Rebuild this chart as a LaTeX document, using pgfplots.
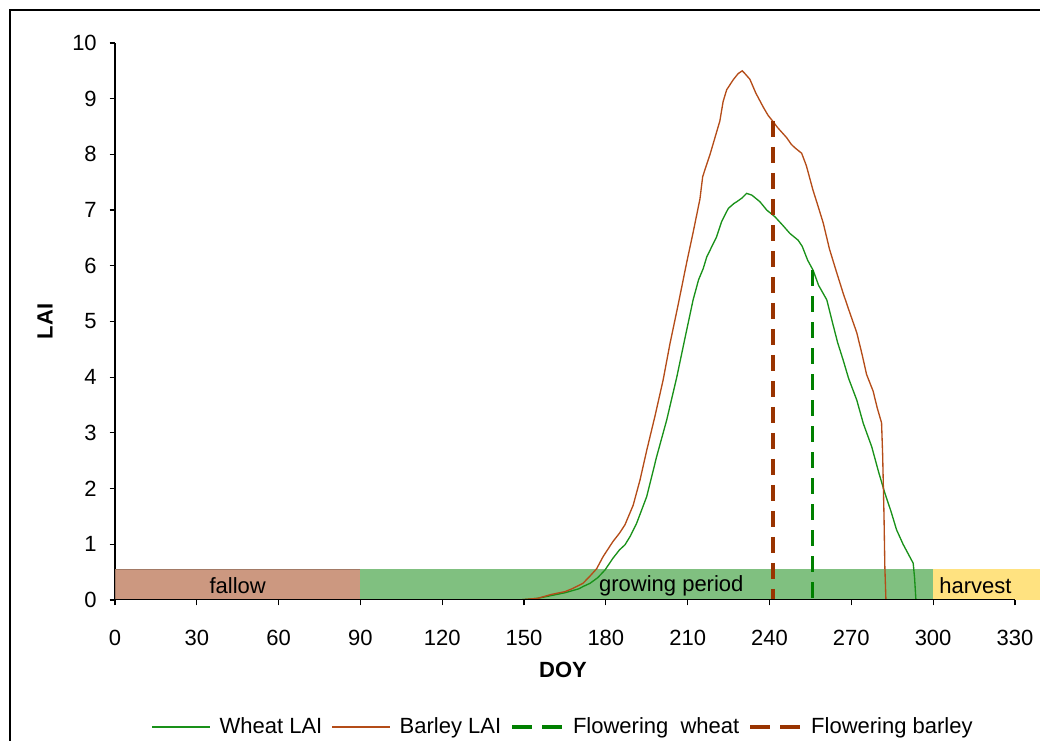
\documentclass[border=0pt]{standalone}
\usepackage{fontspec}
\setmainfont{Liberation Sans}
\usepackage{pgfplots}
\pgfplotsset{compat=1.18}
\definecolor{wheatc}{RGB}{25,145,25}
\definecolor{barleyc}{RGB}{180,76,24}
\definecolor{flwheat}{RGB}{0,128,0}
\definecolor{flbarley}{RGB}{153,51,0}
\definecolor{fallowc}{RGB}{204,152,128}
\definecolor{growc}{RGB}{128,192,128}
\definecolor{harvc}{RGB}{255,226,128}
\newcommand{\fs}{\fontsize{16.5}{19.5}\selectfont}
\pgfplotsset{dashleg/.style={legend image code/.code={\draw[##1, dash pattern=on 15pt off 7.5pt] (0pt,0pt) -- (37.5pt,0pt);}}}
\begin{document}
\fs
\begin{tikzpicture}
\begin{axis}[
  at={(86.25pt,105pt)}, anchor=south west,
  scale only axis, width=693.75pt, height=417.75pt,
  xmin=0, xmax=339.2, ymin=0, ymax=10,
  axis lines=left, axis line style={-, line width=0.9pt},
  x axis line style={draw=none},
  xtick={0,30,...,330}, ytick={0,1,...,10},
  tick align=outside, major tick length=4pt,
  tick style={black, line width=0.9pt},
  /pgf/number format/assume math mode=true,
  ticklabel style={font=\fs},
  xticklabel style={yshift=-13pt},
  yticklabel style={xshift=-4pt},
  xlabel={\textbf{DOY}}, ylabel={\textbf{LAI}},
  label style={font=\fs},
  xlabel style={at={(axis description cs:0.4843,-0.1257)}, anchor=center},
  ylabel style={at={(axis description cs:-0.0757,0.5)}, anchor=center},
  legend columns=4,
  legend style={draw=none, fill=none, at={(axis description cs:0.4848,-0.228)}, anchor=center,
    font=\fs,
    /tikz/every even column/.append style={column sep=5pt},
    /tikz/every odd column/.append style={column sep=5pt}},
  legend image code/.code={\draw[#1] (0pt,0pt) -- (43pt,0pt);},
  clip=true,
]
% period boxes
\addplot[fill=fallowc, draw=fallowc!80!black, line width=0.5pt, forget plot] coordinates {(0,0) (0,0.55) (90,0.55) (90,0)} -- cycle;
\addplot[fill=growc, draw=none, forget plot] coordinates {(90,0) (90,0.55) (300,0.55) (300,0)} -- cycle;
\addplot[fill=harvc, draw=none, forget plot] coordinates {(300,0) (300,0.55) (345,0.55) (345,0)} -- cycle;
\node at (axis cs:45,0.25) {fallow};
\node at (axis cs:204,0.25) {growing period};
\node at (axis cs:315.5,0.25) {harvest};
% wheat
\addplot[wheatc, line width=1pt] coordinates {
(148,0) (155,0.03) (160,0.08) (165,0.13) (170,0.2) (172,0.25) (174.2,0.3) (177,0.4) (179.7,0.54) (182.6,0.75) (185,0.9) (187,0.99) (189,1.15) (191.3,1.38) (193,1.6) (195,1.86) (198.6,2.57) (202.3,3.23) (206,4.0) (209,4.7) (212,5.39) (214,5.75) (215.7,5.95) (217,6.16) (220.6,6.52) (222.5,6.8) (224.9,7.03) (227,7.12) (228,7.15) (230,7.22) (231.6,7.3) (233.5,7.27) (236.5,7.15) (239,7.0) (242,6.88) (245,6.72) (247.5,6.58) (250.5,6.46) (252,6.35) (254,6.1) (256,5.92) (258,5.65) (261,5.39) (263,5.0) (265,4.62) (267,4.31) (269,3.98) (272,3.59) (274.4,3.17) (277.5,2.75) (280,2.3) (282.3,1.92) (284.5,1.6) (286.6,1.26) (289,1.0) (292.7,0.66) (293.2,0.4) (293.7,0)
};
\addlegendentry{Wheat LAI}
% barley
\addplot[barleyc, line width=1pt] coordinates {
(148,0) (155,0.03) (160,0.1) (165,0.15) (168,0.21) (171.6,0.3) (174,0.42) (176.6,0.56) (179,0.78) (182.6,1.05) (185,1.2) (187,1.35) (190,1.7) (192.5,2.15) (195,2.69) (198,3.3) (201,3.95) (203.5,4.6) (206.5,5.3) (209.6,6.05) (212,6.6) (214.5,7.2) (215.5,7.6) (216.5,7.75) (218.2,8.0) (220,8.3) (221.8,8.6) (223,8.95) (224.3,9.16) (226.7,9.34) (228.5,9.45) (230,9.5) (231,9.45) (232.8,9.35) (235,9.1) (237.7,8.85) (239.5,8.7) (241.3,8.59) (243,8.48) (246.3,8.3) (248,8.18) (249.3,8.12) (251.8,8.02) (253.5,7.8) (256,7.35) (257.3,7.15) (259.7,6.77) (262,6.3) (264.5,5.9) (267,5.51) (269.5,5.15) (272,4.8) (274,4.4) (275.6,4.05) (278,3.75) (279.5,3.45) (281.1,3.18) (281.5,2.6) (282,1.5) (282.3,0.6) (282.7,0)
};
\addlegendentry{Barley LAI}
% flowering
\addplot[flwheat, line width=2.4pt, dash pattern=on 12pt off 7.5pt, dashleg]
  coordinates {(255.8,5.92) (255.8,0)};
\addlegendentry{Flowering\ \ wheat}
\addplot[flbarley, line width=2.4pt, dash pattern=on 12pt off 7.5pt, dashleg]
  coordinates {(241.3,8.6) (241.3,0)};
\addlegendentry{Flowering barley}
\draw[black, line width=0.9pt] (axis cs:0,0) -- (axis cs:330,0);
\end{axis}
\draw[black, line width=1.6pt] (7.5pt,-20pt) -- (7.5pt,547.5pt) -- (800pt,547.5pt);
\pgfresetboundingbox
\path[use as bounding box] (0pt,0pt) rectangle (780pt,555pt);
\end{tikzpicture}
\end{document}
